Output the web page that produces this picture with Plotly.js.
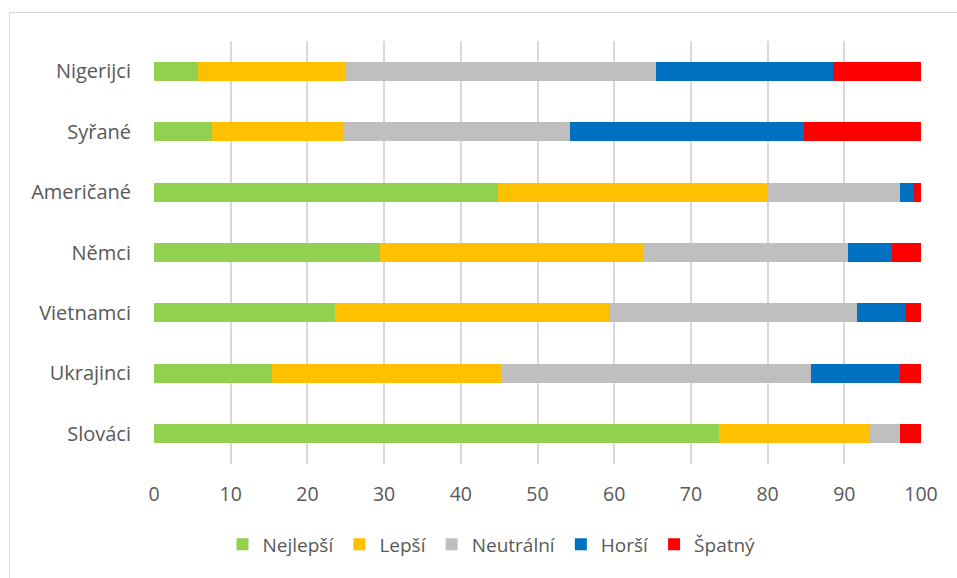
<!DOCTYPE html>
<html>
<head>
<meta charset="utf-8">
<script src="https://cdn.plot.ly/plotly-3.0.1.min.js"></script>
<style>
html,body{margin:0;padding:0;background:#fff;}
#wrap{position:relative;width:957px;height:578px;overflow:hidden;}
#frame{position:absolute;left:9px;top:12px;width:1000px;height:700px;border:1px solid #d9d9d9;box-sizing:border-box;}
#chart{position:absolute;left:0;top:0;width:957px;height:578px;}
</style>
</head>
<body>
<div id="wrap"><div id="frame"></div><div id="chart"></div></div>
<script>
const categories = ["Slováci", "Ukrajinci", "Vietnamci", "Němci", "Američané", "Syřané", "Nigerijci"];
const seriesNames = ["Nejlepší", "Lepší", "Neutrální", "Horší", "Špatný"];
const nejlepsi  = [73.6, 15.4, 23.6, 29.5, 44.8, 7.6, 5.7];
const lepsi     = [19.8, 29.8, 35.8, 34.3, 35.2, 17.1, 19.3];
const neutralni = [3.8, 40.4, 32.2, 26.7, 17.2, 29.6, 40.4];
const horsi     = [0.0, 11.6, 6.5, 5.7, 1.9, 30.5, 23.1];
const spatny    = [2.8, 2.8, 1.9, 3.8, 0.9, 15.2, 11.5];
const xTicks = [0, 10, 20, 30, 40, 50, 60, 70, 80, 90, 100];

const colors = ["#92D050", "#FFC000", "#BFBFBF", "#0070C0", "#FF0000"];
const values = [nejlepsi, lepsi, neutralni, horsi, spatny];

const traces = seriesNames.map((name, i) => ({
  type: "bar",
  orientation: "h",
  name: name,
  y: categories,
  x: values[i],
  marker: {color: colors[i], line: {width: 0}},
  hoverinfo: "x+y+name"
}));

const fontFam = "'Open Sans', 'Noto Sans', sans-serif";
const layout = {
  width: 957,
  height: 578,
  barmode: "stack",
  bargap: 0.685,
  paper_bgcolor: "rgba(0,0,0,0)",
  plot_bgcolor: "rgba(0,0,0,0)",
  margin: {l: 154, r: 36, t: 41, b: 114},
  font: {family: fontFam, size: 19, color: "#595959"},
  xaxis: {
    range: [0, 100],
    tickvals: xTicks,
    ticktext: xTicks.map(String),
    showgrid: true,
    gridcolor: "#d9d9d9",
    gridwidth: 2,
    zeroline: false,
    showline: false,
    ticks: "",
    ticklabelstandoff: 16,
    tickfont: {size: 19.5, color: "#595959"},
    fixedrange: true
  },
  yaxis: {
    type: "category",
    categoryorder: "array",
    categoryarray: categories,
    showgrid: false,
    zeroline: false,
    showline: false,
    ticks: "",
    ticklabelstandoff: 22,
    tickfont: {size: 20, color: "#595959"},
    fixedrange: true
  },
  legend: {
    orientation: "h",
    x: 0.44,
    xanchor: "center",
    y: -0.19,
    yanchor: "middle",
    font: {size: 19, color: "#595959"},
    traceorder: "normal",
    itemwidth: 30
  },
  showlegend: true
};

Plotly.newPlot("chart", traces, layout, {displayModeBar: false, staticPlot: true});
</script>
</body>
</html>
